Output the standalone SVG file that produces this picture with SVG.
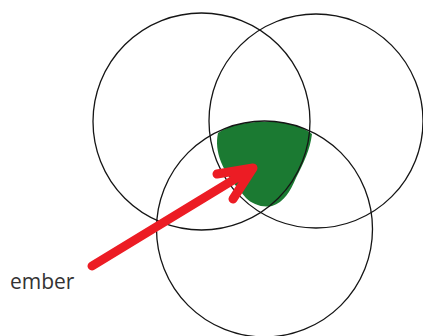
<svg xmlns="http://www.w3.org/2000/svg" width="423" height="336" viewBox="0 0 423 336">
<style>
.c{fill:none;stroke:#151515;stroke-width:1.3}
.a{fill:none;stroke:#ec1c24;stroke-width:9;stroke-linecap:round;stroke-linejoin:round}
.t{font-family:"Open Sans","Noto Sans",sans-serif;font-size:21px;fill:#333}
</style>
<rect width="423" height="336" fill="#fff"/>
<g id="blob"><path d="M218,133 C228,126 240,123 256,122 C275,121 298,122 312,134 C310,150 304,162 296,178 C290,192 284,202 272,206 C262,208 252,204 246,198 C236,186 226,175 221,162 C217,152 216,142 218,133 Z" fill="#1b7a32"/></g>
<g id="circle-left"><circle class="c" cx="201.5" cy="121.5" r="108.5"/></g>
<g id="circle-right"><circle class="c" cx="316" cy="121" r="107"/></g>
<g id="circle-bottom"><circle class="c" cx="264.5" cy="229" r="108"/></g>
<g id="connectors"><path class="a" d="M92,266 L253,168 M217,174 L253,168 L233,199"/></g>
<g id="label"><text class="t" x="10" y="289">ember</text></g>
</svg>
